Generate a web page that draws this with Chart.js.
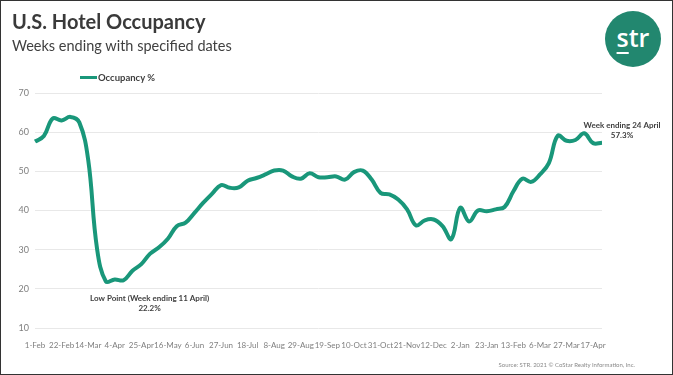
<!DOCTYPE html>
<html>
<head>
<meta charset="utf-8">
<script src="https://cdn.jsdelivr.net/npm/chart.js@4/dist/chart.umd.min.js"></script>
<style>
  html, body { margin: 0; padding: 0; background: #fff; }
  #frame {
    position: relative; width: 673px; height: 375px; box-sizing: border-box;
    border: 1px solid #333; overflow: hidden; font-family: Lato, "Open Sans", sans-serif;
  }
  #title { position: absolute; left: 11px; top: 8px; font-size: 20px; font-weight: bold; color: #3a3a3a; }
  #subtitle { position: absolute; left: 11px; top: 36px; font-size: 14.5px; color: #404040; }
  #logo {
    position: absolute; left: 604px; top: 10px; width: 56px; height: 56px; border-radius: 50%;
    background: #22876f; color: #fff; text-align: center; font-size: 25px; line-height: 52px;
    font-family: "Open Sans", sans-serif; font-weight: 600;
  }
  #logo span { text-decoration: underline; text-underline-offset: 5px; text-decoration-thickness: 2px; }
  #legend { position: absolute; left: 79px; top: 71px; font-size: 9.5px; font-weight: bold; color: #404040; }
  #legend i { display: inline-block; width: 17px; height: 3px; vertical-align: middle; margin-right: 1px; position: relative; top: -1px; }
  #source { position: absolute; right: 37px; top: 360px; font-size: 6px; color: #8a8a8a; }
  canvas { position: absolute; left: 0; top: 0; }
</style>
</head>
<body>
<div id="frame">
  <canvas id="myChart" width="671" height="373"></canvas>
  <div id="title">U.S. Hotel Occupancy</div>
  <div id="subtitle">Weeks ending with specified dates</div>
  <div id="logo"><span>s</span>tr</div>
  <div id="legend"></div>
  <div id="source">Source: STR. 2021 © CoStar Realty Information, Inc.</div>
</div>
<script>
// week ending dates, 1 Feb 2020 -> 24 Apr 2021
let weeks = [
  '1-Feb','8-Feb','15-Feb','22-Feb','29-Feb','7-Mar','14-Mar','21-Mar','28-Mar','4-Apr',
  '11-Apr','18-Apr','25-Apr','2-May','9-May','16-May','23-May','30-May','6-Jun','13-Jun',
  '20-Jun','27-Jun','4-Jul','11-Jul','18-Jul','25-Jul','1-Aug','8-Aug','15-Aug','22-Aug',
  '29-Aug','5-Sep','12-Sep','19-Sep','26-Sep','3-Oct','10-Oct','17-Oct','24-Oct','31-Oct',
  '7-Nov','14-Nov','21-Nov','28-Nov','5-Dec','12-Dec','19-Dec','26-Dec','2-Jan','9-Jan',
  '16-Jan','23-Jan','30-Jan','6-Feb','13-Feb','20-Feb','27-Feb','6-Mar','13-Mar','20-Mar',
  '27-Mar','3-Apr','10-Apr','17-Apr','24-Apr'
];

let occupancy = [
  57.6, 59.0, 63.5, 63.0, 63.9, 62.5, 53.0, 30.3, 21.9, 22.4,
  22.2, 24.6, 26.3, 29.0, 30.6, 32.8, 36.0, 36.9, 39.4, 42.0,
  44.3, 46.5, 45.8, 45.9, 47.6, 48.3, 49.2, 50.2, 50.2, 48.7,
  48.1, 49.5, 48.5, 48.5, 48.7, 47.9, 49.8, 50.2, 47.9, 44.5,
  44.1, 42.8, 40.3, 36.2, 37.5, 37.7, 36.0, 32.7, 40.7, 37.2,
  40.0, 39.8, 40.3, 40.9, 44.9, 48.1, 47.3, 49.2, 52.1, 59.1,
  57.8, 58.0, 59.7, 57.2, 57.3
];

let seriesName = 'Occupancy %';
let lineColor = '#19977a';

// callouts: [week index, line 1, line 2]
let lowNote = [10, 'Low Point (Week ending 11 April)', '22.2%'];
let lastNote = [64, 'Week ending 24 April', '57.3%'];

document.getElementById('legend').innerHTML =
  '<i style="background:' + lineColor + '"></i>' + seriesName;

let notesPlugin = {
  id: 'notes',
  afterDatasetsDraw(chart) {
    let c = chart.ctx;
    let xs = chart.scales.x, ys = chart.scales.y;
    c.save();
    c.fillStyle = '#404040';
    c.textAlign = 'center';
    c.textBaseline = 'middle';
    c.font = 'bold 8px Lato, sans-serif';

    let lx = xs.getPixelForValue(lowNote[0]) + 26;
    let ly = ys.getPixelForValue(occupancy[lowNote[0]]) + 18;
    c.fillText(lowNote[1], lx, ly);
    c.fillText(lowNote[2], lx, ly + 10);

    let rx = xs.getPixelForValue(lastNote[0]) + 20;
    let ry = ys.getPixelForValue(occupancy[lastNote[0]]) - 17;
    c.fillText(lastNote[1], rx, ry);
    c.fillText(lastNote[2], rx, ry + 10);
    c.restore();
  }
};

var ctx = document.getElementById('myChart').getContext('2d');
var chart = new Chart(ctx, {
  type: 'line',
  data: {
    labels: weeks,
    datasets: [{
      label: seriesName,
      data: occupancy,
      borderColor: lineColor,
      backgroundColor: lineColor,
      borderWidth: 4,
      pointRadius: 0,
      tension: 0.4,
      fill: false
    }]
  },
  options: {
    responsive: false,
    animation: false,
    layout: { padding: { left: 8, top: 92, right: 70, bottom: 24 } },
    plugins: {
      legend: { display: false },
      tooltip: { enabled: false }
    },
    scales: {
      x: {
        offset: false,
        grid: { display: false },
        border: { display: false },
        ticks: {
          autoSkip: false, maxRotation: 0, minRotation: 0,
          color: '#7f7f7f', font: { family: 'Lato', size: 8 }, padding: 5,
          callback: function(val, i) { return i % 3 === 0 ? weeks[i] : ''; }
        },
        afterFit: function(s) { s.height = 22; }
      },
      y: {
        min: 10, max: 70,
        grid: { color: '#e8e8e8', drawTicks: false, lineWidth: 1 },
        border: { display: false },
        ticks: { stepSize: 10, color: '#7f7f7f', font: { family: 'Lato', size: 9 }, padding: 6 },
        afterFit: function(s) { s.width = 26; }
      }
    }
  },
  plugins: [notesPlugin]
});
</script>
</body>
</html>
